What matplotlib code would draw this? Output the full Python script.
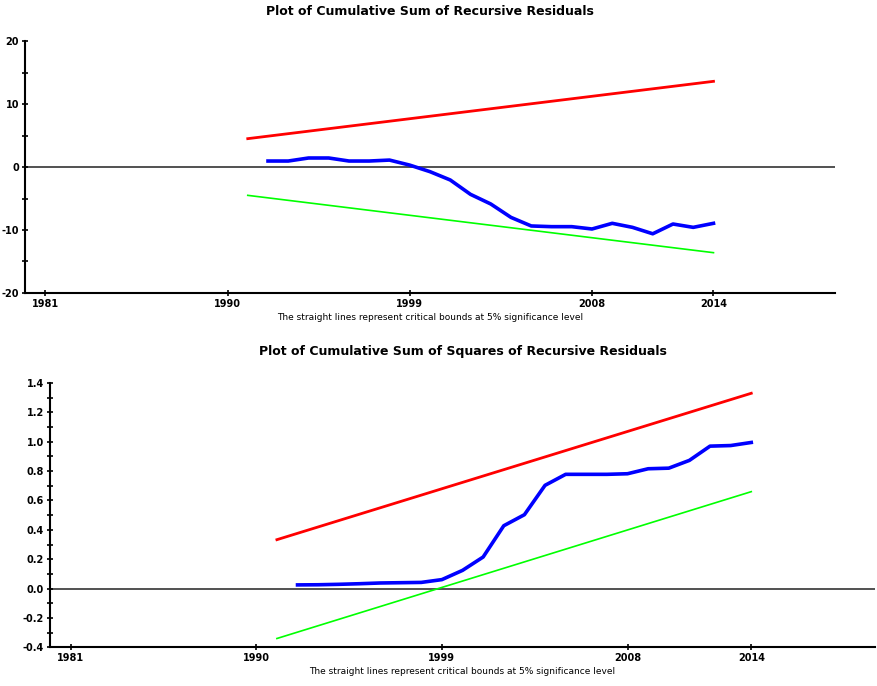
import matplotlib
matplotlib.use('Agg')
import matplotlib.pyplot as plt
from matplotlib.ticker import MultipleLocator

# CUSUM data
years = list(range(1992, 2015))
cusum = [0.95, 0.95, 1.43, 1.43, 0.95, 0.95, 1.1, 0.3, -0.74, -2.06, -4.34, -5.87, -8.0,
         -9.36, -9.47, -9.47, -9.84, -8.94, -9.58, -10.6, -9.05, -9.58, -8.94]
cusum_bound_years = [1991, 2014]
cusum_upper = [4.5, 13.6]
cusum_lower = [-4.5, -13.6]

# CUSUM of squares data
cusumsq = [0.025, 0.026, 0.029, 0.033, 0.038, 0.040, 0.042, 0.061, 0.124, 0.215, 0.428, 0.503,
           0.703, 0.778, 0.778, 0.778, 0.782, 0.816, 0.820, 0.873, 0.970, 0.974, 0.995]
sq_upper = [0.333, 1.33]
sq_lower = [-0.34, 0.66]

xticks = [1981, 1990, 1999, 2008, 2014]
note = 'The straight lines represent critical bounds at 5% significance level'

fig = plt.figure(figsize=(8.78, 6.86), dpi=100)
ax1 = fig.add_axes([0.0285, 0.5729, 0.9225, 0.3673])
ax2 = fig.add_axes([0.057, 0.0564, 0.9396, 0.3853])


def style(ax, ylim, major, minor, fmt):
    ax.set_xlim(1980, 2020)
    ax.set_ylim(*ylim)
    for s in ['top', 'right']:
        ax.spines[s].set_visible(False)
    for s in ['left', 'bottom']:
        ax.spines[s].set_linewidth(1.5)
    ax.set_xticks(xticks)
    ax.set_xticklabels([str(x) for x in xticks], fontsize=7, fontweight='bold')
    ax.yaxis.set_major_locator(MultipleLocator(major))
    ax.yaxis.set_minor_locator(MultipleLocator(minor))
    ax.set_yticks(ax.get_yticks())
    ax.set_yticklabels([fmt.format(v) for v in ax.get_yticks()], fontsize=7, fontweight='bold')
    ax.set_ylim(*ylim)
    ax.tick_params(which='both', direction='inout', length=4.5, width=1.2, pad=2)
    ax.axhline(0, color='#333333', lw=1.2, zorder=1)


ax1.plot(cusum_bound_years, cusum_upper, color='#ff0000', lw=2)
ax1.plot(cusum_bound_years, cusum_lower, color='#00ff00', lw=1.2)
ax1.plot(years, cusum, color='#0000ff', lw=2.6)
style(ax1, (-20, 20), 10, 5, '{:.0f}')
ax1.set_title('Plot of Cumulative Sum of Recursive Residuals', fontsize=9, fontweight='bold', pad=19)
ax1.set_xlabel(note, fontsize=6.5, labelpad=3)

ax2.plot(cusum_bound_years, sq_upper, color='#ff0000', lw=2)
ax2.plot(cusum_bound_years, sq_lower, color='#00ff00', lw=1.2)
ax2.plot(years, cusumsq, color='#0000ff', lw=2.6)
style(ax2, (-0.4, 1.4), 0.2, 0.1, '{:.1f}')
ax2.set_title('Plot of Cumulative Sum of Squares of Recursive Residuals', fontsize=9, fontweight='bold', pad=20)
ax2.set_xlabel(note, fontsize=6.5, labelpad=3)

fig.savefig('out.png', dpi=100)
